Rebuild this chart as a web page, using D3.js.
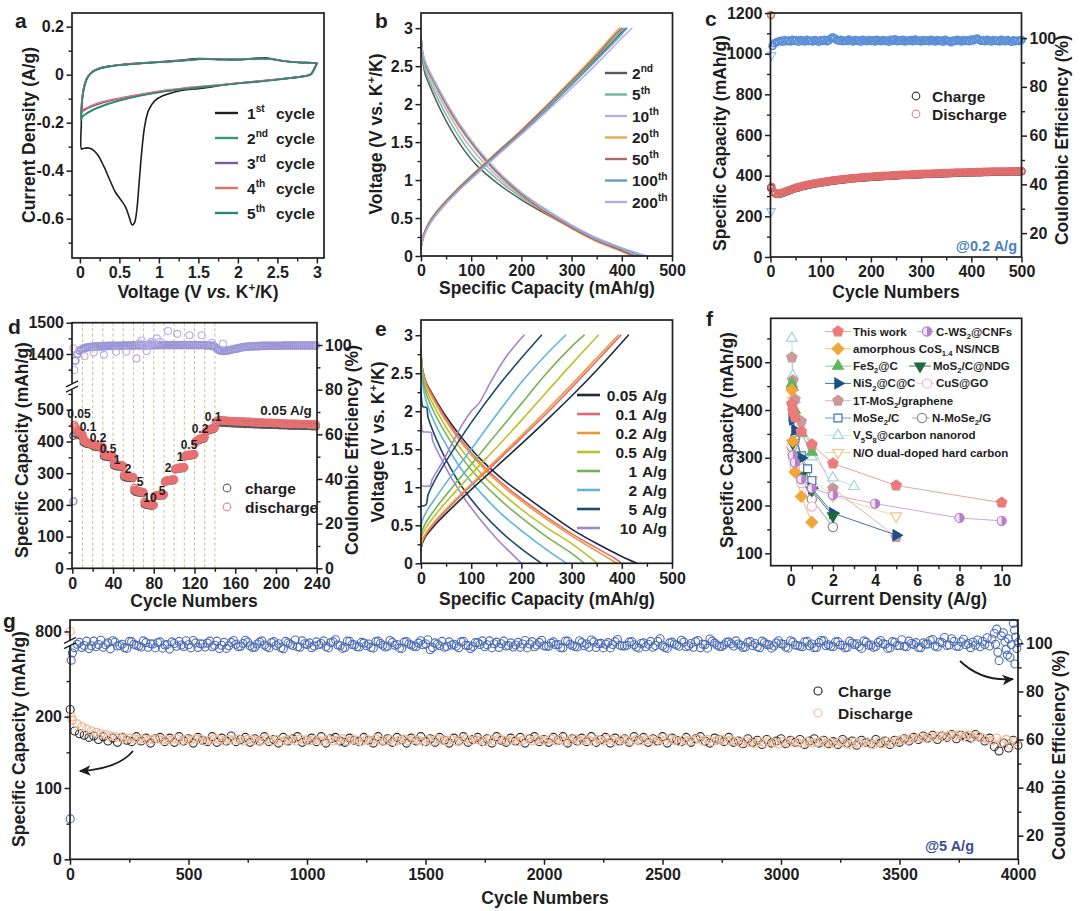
<!DOCTYPE html>
<html><head><meta charset="utf-8">
<script src="https://cdn.jsdelivr.net/npm/d3@7"></script>
<style>
body{margin:0;background:#fff;}
svg{display:block;font-family:"Liberation Sans",Arial,Helvetica,sans-serif;font-weight:bold;}
</style></head><body>
<svg id="fig" width="1080" height="911"></svg>
<script>
// ================= DATA =================
// (a) CV curves [V, A/g]
const cvNames = ["1","2","3","4","5"];
const cvSup = ["st","nd","rd","th","th"];
const cv1 = [[3.0,0.047],[2.96,0.022],[2.92,0.002],[2.8,-0.008],[2.5,-0.02],[2.2,-0.03],[2.0,-0.036],[1.8,-0.043],[1.65,-0.052],[1.5,-0.058],[1.35,-0.063],[1.2,-0.072],[1.05,-0.088],[0.95,-0.108],[0.87,-0.148],[0.82,-0.215],[0.78,-0.33],[0.75,-0.45],[0.72,-0.565],[0.69,-0.618],[0.66,-0.626],[0.63,-0.6],[0.58,-0.553],[0.52,-0.522],[0.45,-0.49],[0.38,-0.44],[0.3,-0.38],[0.22,-0.332],[0.15,-0.31],[0.1,-0.305],[0.04,-0.308],[0.02,-0.31],[0.018,-0.2],[0.025,-0.12],[0.045,-0.06],[0.08,-0.02],[0.14,0.008],[0.22,0.024],[0.35,0.035],[0.55,0.043],[0.8,0.049],[1.05,0.055],[1.3,0.061],[1.5,0.067],[1.75,0.065],[2.0,0.064],[2.2,0.068],[2.35,0.07],[2.5,0.062],[2.65,0.054],[2.85,0.05],[3.0,0.047]];
const cv2 = [[3.0,0.048],[2.97,0.025],[2.92,0.0],[2.8,-0.008],[2.5,-0.02],[2.2,-0.03],[2.0,-0.036],[1.75,-0.045],[1.5,-0.053],[1.25,-0.062],[1.0,-0.072],[0.75,-0.087],[0.5,-0.107],[0.3,-0.127],[0.15,-0.148],[0.06,-0.166],[0.025,-0.178],[0.015,-0.185],[0.02,-0.15],[0.035,-0.09],[0.06,-0.045],[0.1,-0.01],[0.16,0.012],[0.25,0.026],[0.4,0.036],[0.6,0.043],[0.85,0.049],[1.1,0.054],[1.35,0.06],[1.55,0.065],[1.8,0.063],[2.05,0.063],[2.25,0.067],[2.4,0.066],[2.55,0.058],[2.75,0.052],[2.9,0.05],[3.0,0.048]];
const cv3 = [[3.0,0.048],[2.97,0.025],[2.92,0.0],[2.8,-0.008],[2.5,-0.019],[2.2,-0.029],[2.0,-0.035],[1.75,-0.044],[1.5,-0.051],[1.25,-0.06],[1.0,-0.07],[0.75,-0.084],[0.5,-0.1],[0.3,-0.116],[0.15,-0.133],[0.06,-0.147],[0.025,-0.155],[0.015,-0.16],[0.02,-0.13],[0.035,-0.08],[0.06,-0.042],[0.1,-0.009],[0.16,0.012],[0.25,0.026],[0.4,0.036],[0.6,0.043],[0.85,0.049],[1.1,0.054],[1.35,0.06],[1.55,0.065],[1.8,0.063],[2.05,0.063],[2.25,0.067],[2.4,0.066],[2.55,0.058],[2.75,0.052],[2.9,0.05],[3.0,0.048]];
const cv4 = [[3.0,0.048],[2.97,0.025],[2.92,0.0],[2.8,-0.008],[2.5,-0.019],[2.2,-0.029],[2.0,-0.035],[1.75,-0.043],[1.5,-0.05],[1.25,-0.059],[1.0,-0.069],[0.75,-0.083],[0.5,-0.098],[0.3,-0.112],[0.15,-0.128],[0.06,-0.142],[0.025,-0.15],[0.015,-0.155],[0.02,-0.125],[0.035,-0.078],[0.06,-0.04],[0.1,-0.008],[0.16,0.012],[0.25,0.026],[0.4,0.036],[0.6,0.043],[0.85,0.049],[1.1,0.054],[1.35,0.06],[1.55,0.065],[1.8,0.063],[2.05,0.063],[2.25,0.067],[2.4,0.066],[2.55,0.058],[2.75,0.052],[2.9,0.05],[3.0,0.048]];
const cv5 = [[3.0,0.048],[2.97,0.025],[2.92,0.0],[2.8,-0.009],[2.5,-0.021],[2.2,-0.031],[2.0,-0.037],[1.75,-0.046],[1.5,-0.054],[1.25,-0.063],[1.0,-0.074],[0.75,-0.089],[0.5,-0.109],[0.3,-0.13],[0.15,-0.15],[0.06,-0.168],[0.025,-0.18],[0.015,-0.19],[0.02,-0.155],[0.035,-0.092],[0.06,-0.046],[0.1,-0.011],[0.16,0.011],[0.25,0.025],[0.4,0.035],[0.6,0.042],[0.85,0.048],[1.1,0.053],[1.35,0.059],[1.55,0.064],[1.8,0.062],[2.05,0.062],[2.25,0.066],[2.4,0.065],[2.55,0.057],[2.75,0.051],[2.9,0.049],[3.0,0.048]];

// (b) GCD profiles at 0.2 A/g [mAh/g, V]
const bNames = ["2","5","10","20","50","100","200"];
const bDis = [
 [[0,2.9],[3,2.6],[8,2.4],[15,2.28],[30,2.05],[50,1.78],[80,1.45],[110,1.2],[150,0.97],[200,0.74],[250,0.55],[300,0.37],[350,0.2],[400,0.07],[425,0.0]],
 [[0,2.9],[3,2.62],[8,2.45],[15,2.33],[30,2.12],[50,1.86],[80,1.53],[110,1.27],[150,1.02],[200,0.77],[250,0.57],[300,0.38],[350,0.21],[400,0.08],[430,0.0]],
 [[0,2.9],[3,2.65],[8,2.5],[15,2.38],[30,2.18],[50,1.93],[80,1.6],[110,1.34],[150,1.06],[200,0.79],[250,0.57],[300,0.38],[350,0.21],[400,0.08],[435,0.0]],
 [[0,2.9],[3,2.68],[8,2.53],[15,2.42],[30,2.23],[50,1.98],[80,1.66],[110,1.4],[150,1.1],[200,0.8],[250,0.56],[300,0.36],[350,0.19],[400,0.06],[420,0.0]],
 [[0,2.9],[3,2.68],[8,2.54],[15,2.43],[30,2.24],[50,2.0],[80,1.68],[110,1.41],[150,1.11],[200,0.81],[250,0.57],[300,0.37],[350,0.2],[400,0.07],[425,0.0]],
 [[0,2.9],[3,2.7],[8,2.56],[15,2.45],[30,2.26],[50,2.02],[80,1.7],[110,1.43],[150,1.13],[200,0.83],[250,0.6],[300,0.4],[350,0.23],[400,0.1],[440,0.0]],
 [[0,2.9],[3,2.7],[8,2.57],[15,2.46],[30,2.27],[50,2.03],[80,1.71],[110,1.44],[150,1.14],[200,0.84],[250,0.61],[300,0.41],[350,0.24],[400,0.11],[450,0.0]]
];
const bCha = [
 [[0,0.08],[2,0.17],[8,0.3],[20,0.45],[40,0.62],[70,0.83],[100,1.02],[130,1.2],[160,1.38],[200,1.62],[250,1.93],[300,2.26],[350,2.6],[390,2.88],[408,3.0]],
 [[0,0.1],[2,0.19],[8,0.31],[20,0.46],[40,0.63],[70,0.84],[100,1.03],[130,1.21],[160,1.39],[200,1.63],[250,1.95],[300,2.28],[350,2.62],[390,2.9],[404,3.0]],
 [[0,0.12],[2,0.21],[8,0.33],[20,0.48],[40,0.65],[70,0.86],[100,1.05],[130,1.23],[160,1.41],[200,1.65],[250,1.97],[300,2.3],[350,2.65],[385,2.9],[400,3.0]],
 [[0,0.13],[2,0.22],[8,0.34],[20,0.49],[40,0.66],[70,0.87],[100,1.06],[130,1.24],[160,1.42],[200,1.66],[250,1.98],[300,2.32],[350,2.67],[385,2.93],[395,3.0]],
 [[0,0.12],[2,0.21],[8,0.33],[20,0.48],[40,0.65],[70,0.86],[100,1.05],[130,1.23],[160,1.41],[200,1.65],[250,1.97],[300,2.3],[350,2.64],[385,2.9],[400,3.0]],
 [[0,0.1],[2,0.19],[8,0.31],[20,0.46],[40,0.63],[70,0.84],[100,1.03],[130,1.21],[160,1.39],[200,1.62],[250,1.93],[300,2.25],[350,2.58],[390,2.85],[410,3.0]],
 [[0,0.09],[2,0.18],[8,0.3],[20,0.45],[40,0.62],[70,0.83],[100,1.01],[130,1.19],[160,1.37],[200,1.6],[250,1.9],[300,2.21],[350,2.53],[400,2.87],[420,3.0]]
];

// (c) cycling at 0.2 A/g
const cFirst = {dis:1190, cha:340, ce1:29, ce2:93};
const cDis = [322,314,311,313,317,322,327,331,336,340,343,347,350,353,356,358,361,363,365,367,369,371,373,375,377,378,380,381,383,384,385,387,388,389,390,391,392,393,394,395,396,397,397,398,399,400,400,401,402,402,403,404,404,405,405,406,407,407,408,408,409,409,410,410,411,411,412,412,413,413,413,414,414,415,415,415,416,416,417,417,417,418,418,418,419,419,419,420,420,420,420,421,421,421,421,422,422,422,422,423];
const cCha = [320,312,309,311,315,320,325,329,334,338,341,345,348,351,354,356,359,361,363,365,367,369,371,373,375,376,378,379,381,382,383,385,386,387,388,389,390,391,392,393,394,395,395,396,397,398,398,399,400,400,401,402,402,403,403,404,405,405,406,406,407,407,408,408,409,409,410,410,411,411,411,412,412,413,413,413,414,414,415,415,415,416,416,416,417,417,417,418,418,418,418,419,419,419,419,420,420,420,420,421];
const cCE = [96.8,97.9,98.3,98.6,98.9,98.5,99.2,98.7,99.0,98.6, 99.3,98.8,99.1,98.5,99.2,98.9,98.6,99.3,98.8,99.0, 98.6,99.2,98.9,98.5,99.1,98.8,99.3,98.7,99.0,99.8, 100.4,99.9,99.2,98.9,99.3,98.7,99.0,98.8,99.4,98.9, 98.6,99.2,98.8,99.1,98.5,99.3,98.9,98.7,99.2,98.8, 99.1,98.6,99.3,98.9,98.7,99.2,98.8,99.0,98.5,99.3, 98.9,99.5,98.7,99.1,98.8,99.3,98.6,99.0,98.9,99.2, 98.7,99.4,98.9,99.0,98.6,99.2,98.8,99.1,98.7,99.3, 98.9,98.6,99.2,98.8,99.0,98.5,99.3,98.9,98.7,98.3, 99.0,98.8,99.3,98.9,98.6,99.2,98.8,99.1,98.7,99.4, 99.0,99.6,99.8,99.2,98.8,99.1,98.7,99.3,98.9,98.6, 99.2,98.8,99.0,98.6,99.3,98.9,98.7,99.2,98.8,98.5, 99.1,98.7,99.0,98.8,99.2];

// (d) rate capability
const dRates = ["0.05","0.1","0.2","0.5","1","2","5","10","5","2","1","0.5","0.2","0.1"];
const dFirstDis = 1418;
const dDisA = [452,446,440,435,431,428,426,424,422, 410,402,399,397,396,395,394,393,393,392, 390,388,387,387,386,385,385,384,384,383, 365,358,357,356,356,355,355,354,354,353, 333,328,327,326,326,325,325,324,324,323, 297,292,291,290,289,289,288,288,287,287, 253,247,245,244,243,242,242,241,240,240, 210,205,204,203,203,202,202,201,201,200, 228,230,230,231,231,231,232,232,232,233, 272,276,277,277,278,278,279,279,280,280, 312,315,316,316,317,317,318,318,318,319, 353,356,357,357,358,358,359,359,360,360, 398,402,404,406,408,409,410,411,412,413, 430,434,436,438,439,440,441,442,443,444];
const dDisB = [462,466,467,467,466,466,465,465,465,464, 464,464,463,463,463,462,462,462,461,461, 461,460,460,460,459,459,459,459,458,458, 458,458,457,457,457,457,456,456,456,456, 456,455,455,455,455,455,454,454,454,454];
const dCha = [418,425,422,419,417, 398,394,392,391,390, 385,383,382,381,380, 354,352,351,350,350, 324,322,321,321,320, 288,286,285,284,284, 244,240,239,238,237, 202,200,199,198,198, 228,229,229,230,230, 273,275,276,277,277, 313,314,315,315,316, 354,355,356,356,357, 398,402,405,407,409, 431,434,436,438,440, 458,460,460,459,459,458,458,458,457,457, 457,456,456,456,455,455,455,455,454,454, 454,454,453,453,453,453,452,452,452,452, 452,451,451,451,451,451,450,450,450,450, 450,450,449,449,449,449,449,448,448,448];
const dCE = [30,93,96,97.5,98,98.5,98.8,99,99.1,99.2, 99.3,99.3,99.4,99.4,99.5,99.5,99.5,99.6,99.6,99.6, 99.6,99.7,99.7,99.7,99.7,99.8,99.8,99.8,99.8,99.8, 99.8,99.9,99.9,99.8,99.9,99.9,99.8,99.9,99.9,99.9, 99.9,100,99.9,100,99.9,100,100,99.9,100,100, 99.9,100,100,99.9,100,100,99.9,100,100,99.9, 100,99.9,100,99.9,100,99.8,99.9,99.8,99.7,99.6, 98.8,98.0,97.6,97.4,97.3,97.4,97.6,97.8,98.0,98.2, 98.4,98.6,98.8,99.0,99.1,99.2,99.3,99.4,99.4,99.5, 99.5,99.5,99.6,99.6,99.6,99.6,99.7,99.7,99.7,99.7, 99.7,99.7,99.7,99.8,99.8,99.8,99.8,99.8,99.8,99.8, 99.8,99.8,99.8,99.8,99.8,99.8,99.8,99.8,99.8,99.8];
const dCEout = [[2,88.8],[12,95],[21,96.7],[31,95.6],[43,97],[53,97],[63,94],[66,100.8],[68,102],[71,99.5],[73,97.3],[76,100.5],[78,101.4],[80,100.8],[83,103],[86,101.5],[94,106.3],[103,105],[115,104.4],[127,104.4],[137,101],[148,100.6]];

// (e) GCD at different rates [mAh/g, V]
const eRates = ["0.05","0.1","0.2","0.5","1","2","5","10"];
const eCha = [
 [[0,0.17],[2,0.25],[10,0.36],[30,0.52],[60,0.72],[100,0.97],[150,1.27],[200,1.57],[250,1.88],[300,2.2],[350,2.54],[413,3.0]],
 [[0,0.19],[2,0.27],[10,0.38],[30,0.55],[60,0.76],[100,1.02],[150,1.33],[200,1.65],[250,1.97],[300,2.31],[350,2.66],[398,3.0]],
 [[0,0.21],[2,0.29],[10,0.4],[30,0.57],[60,0.78],[100,1.04],[150,1.36],[200,1.68],[250,2.01],[300,2.35],[350,2.7],[393,3.0]],
 [[0,0.27],[2,0.36],[10,0.47],[30,0.65],[60,0.88],[100,1.17],[150,1.52],[200,1.88],[250,2.25],[300,2.62],[353,3.0]],
 [[0,0.32],[2,0.42],[10,0.54],[30,0.73],[60,0.98],[100,1.3],[150,1.7],[200,2.1],[250,2.5],[300,2.85],[325,3.0]],
 [[0,0.45],[2,0.55],[10,0.67],[30,0.87],[60,1.15],[100,1.5],[150,1.95],[200,2.38],[250,2.75],[288,3.0]],
 [[0,0.75],[10,0.77],[14,0.9],[30,1.12],[60,1.45],[100,1.85],[150,2.3],[200,2.7],[240,3.0]],
 [[0,1.02],[18,1.02],[22,1.1],[40,1.3],[60,1.55],[80,1.8],[100,2.0],[115,2.1],[140,2.4],[170,2.72],[205,3.0]]
];
const eDis = [
 [[0,2.8],[3,2.55],[10,2.38],[25,2.2],[50,1.93],[80,1.66],[120,1.36],[160,1.12],[200,0.92],[250,0.68],[300,0.45],[350,0.26],[400,0.09],[430,0]],
 [[0,2.8],[3,2.55],[10,2.37],[25,2.18],[50,1.9],[80,1.62],[120,1.31],[160,1.06],[200,0.85],[250,0.61],[300,0.39],[350,0.2],[385,0.07],[400,0]],
 [[0,2.78],[3,2.53],[10,2.35],[25,2.15],[50,1.87],[80,1.59],[120,1.28],[160,1.03],[200,0.82],[250,0.58],[300,0.36],[350,0.16],[390,0]],
 [[0,2.75],[3,2.5],[10,2.3],[25,2.08],[50,1.79],[80,1.5],[120,1.18],[160,0.93],[200,0.71],[250,0.47],[300,0.26],[352,0]],
 [[0,2.7],[3,2.45],[10,2.24],[25,2.0],[50,1.7],[80,1.4],[120,1.08],[160,0.82],[200,0.6],[250,0.35],[300,0.13],[325,0]],
 [[0,2.6],[3,2.37],[10,2.14],[25,1.88],[50,1.56],[80,1.24],[120,0.92],[160,0.65],[200,0.43],[250,0.18],[290,0]],
 [[0,2.3],[2,2.1],[4,2.06],[11,2.05],[14,1.92],[30,1.64],[50,1.36],[80,1.02],[120,0.68],[160,0.41],[200,0.19],[240,0]],
 [[0,1.9],[2,1.76],[4,1.73],[20,1.72],[23,1.62],[40,1.38],[60,1.13],[90,0.82],[120,0.56],[150,0.33],[180,0.13],[200,0]]
];

// (f) comparison [A/g, mAh/g]
const fNames = ["This work","C-WS2@CNFs","amorphous CoS1.4 NS/NCB","FeS2@C","MoS2/C@NDG","NiS2@C@C","CuS@GO","1T-MoS2/graphene","MoSe2/C","N-MoSe2/G","V5S8@carbon nanorod","N/O dual-doped hard carbon"];
const fThis = [[0.05,413],[0.1,398],[0.2,385],[0.5,355],[1,328],[2,288],[5,242],[10,206]];
const fCWS2 = [[0.1,305],[0.2,290],[0.5,255],[1,236],[2,222],[4,204],[8,174],[10,168]];
const fCoS = [[0.05,442],[0.1,335],[0.2,270],[0.5,219],[1,165]];
const fFeS2 = [[0.05,455],[0.1,448],[0.2,400],[0.5,352],[1,312]];
const fMoS2NDG = [[0.1,330],[0.2,300],[0.5,262],[1,232],[2,178]];
const fNiS2 = [[0.1,380],[0.2,358],[0.5,300],[1,236],[2,184],[5,138]];
const fCuS = [[0.05,325],[0.1,300],[0.2,280],[0.5,247],[1,198]];
const fMoS2G = [[0.05,510],[0.1,462],[0.2,422],[0.5,376],[1,325],[2,236],[5,134]];
const fMoSe2C = [[0.1,385],[0.2,340],[0.5,304],[0.8,277],[1,252]];
const fNMoSe2 = [[0.05,322],[0.1,305],[0.2,285],[0.5,257],[1,213],[2,155]];
const fV5S8 = [[0.05,550],[0.1,472],[0.2,422],[0.5,352],[1,302],[2,258],[3,240]];
const fNOHC = [[0.05,440],[0.1,420],[0.2,335],[0.5,280],[1,254],[2,220],[5,178]];

// (g) long cycling at 5 A/g
const gFirst = {dis:800, cha:210, ce1:27};
const gEarly = {dis:[[5,200]], ce:[[5,93],[10,96]]};
const gCE = [98.2,100.4,99.1,97.8,100.9,99.5,98.4,100.2,101.1,98.9,99.6,97.9,100.7,99.2,98.5,100.3,99.8,98.1,100.6,99.3,
 97.6,99.9,100.8,98.7,99.4,101.2,98.3,99.7,100.1,98.6,100.9,99.2,97.9,100.4,99.6,98.8,101.3,99.0,98.4,100.5,
 99.3,98.1,100.7,99.8,97.7,100.2,99.1,98.6,101.0,99.5,98.2,100.6,99.9,98.7,100.3,101.5,99.0,98.3,100.8,99.4,
 98.5,100.1,99.7,98.0,100.9,99.2,98.8,100.4,99.5,97.9,100.7,99.3,98.6,101.1,99.8,97.3,100.2,99.0,98.4,100.6,
 99.6,98.2,100.8,99.1,98.7,100.3,101.0,99.4,98.1,100.5,99.8,98.9,100.2,99.3,98.4,101.2,99.7,98.6,100.4,99.0,
 98.8,100.6,99.5,98.2,100.9,99.1,98.5,100.3,99.7,101.4,98.3,100.0,99.6,98.1,100.7,99.2,98.9,100.5,99.4,98.0,
 100.2,99.6,98.4,100.8,99.0,97.9,100.5,99.3,101.3,98.6,99.9,100.7,98.2,99.5,101.8,100.1,98.7,99.4,100.6,98.9,
 99.7,98.3,100.4,99.1,98.6,100.9,99.5,98.0,100.2,99.8,98.5,101.1,99.3,98.8,100.6,99.0,98.2,100.3,101.0,99.4,
 98.6,100.7,99.2,98.4,100.1,99.8,97.9,100.5,99.3,98.7,101.2,99.6,98.1,100.4,99.0,98.8,100.9,99.5,98.3,100.2,
 99.7,101.6,98.5,100.3,99.1,101.9,98.8,100.6,99.4,98.2];
const gCE2 = [99.6,98.3,100.9,99.0,98.6,101.3,99.4,97.7,100.5,99.1,98.2,100.8,99.6,98.9,101.0,98.4,99.7,100.3,98.0,99.5,
 100.6,98.8,99.3,101.1,98.1,100.2,99.8,98.5,100.9,99.2,97.8,100.4,99.0,101.2,98.6,99.9,100.5,98.3,99.7,101.0,
 98.7,100.3,99.1,98.2,100.8,99.6,101.4,98.4,99.8,100.2,98.9,99.4,101.0,98.1,100.6,99.3,97.9,100.9,99.5,98.6,
 100.4,99.0,98.3,100.7,99.9,98.5,101.2,99.2,98.0,100.5,99.7,98.8,100.1,99.4,101.5,98.2,99.6,100.8,98.7,99.3,
 98.9,100.6,99.2,97.8,100.3,99.5,98.6,101.0,99.8,98.3,100.9,99.1,98.5,100.4,99.7,98.1,100.7,99.3,101.3,98.8,
 100.1,99.4,98.2,100.9,99.6,98.7,101.1,99.0,98.4,100.6,99.8,98.1,100.3,99.5,101.6,98.9,99.2,100.7,98.5,99.9,
 98.6,100.8,99.1,101.9,98.3,100.2,99.7,98.8,100.5,99.0,98.4,101.2,99.6,98.0,100.9,99.3,98.7,100.4,99.8,101.0,
 99.2,98.5,100.7,99.9,98.2,100.3,99.4,98.9,101.1,99.6,98.0,100.5,99.1,98.6,100.8,99.7,98.3,101.3,99.0,98.8,
 100.6,99.3,98.1,100.9,99.5,98.7,101.0,99.2,98.4,100.4,99.8,97.9,100.7,99.1,101.5,98.6,99.9,100.3,98.2,99.6,
 101.2,98.9,100.5,102.4,99.3,100.8,98.7,101.7,99.9];
const gCEtail = [[3810,100.5],[3820,99.2],[3830,101.4],[3840,98.6],[3850,100.8],[3860,99.5],[3870,102.3],[3880,98.9],[3890,101.8],[3900,104.2],[3905,99.6],[3910,105.9],[3915,96.3],[3920,92.8],[3930,103.1],[3938,104.4],[3945,100.7],[3950,97.5],[3955,95.1],[3960,101.9],[3966,94.2],[3972,99.4],[3980,108.3],[3985,105.5],[3987,91.4],[3990,102.6],[3995,97.8],[4000,100.3]];
const gCha = [180,176,174,171,173,168,172,166,170,164,171,167,165,172,166,170,163,169,171,165,
 170,164,172,166,169,163,171,167,165,172,164,170,166,173,165,168,171,164,169,166,
 172,165,168,163,171,166,169,172,164,167,170,165,172,163,169,171,166,164,170,167,
 165,171,167,163,172,166,169,164,171,168,163,170,166,172,165,169,164,171,167,163,
 170,166,172,164,168,171,165,169,163,172,167,164,170,166,171,163,169,172,165,168,
 164,171,167,172,163,169,166,170,165,172,164,168,171,163,170,166,169,164,172,167,
 171,164,169,166,172,163,170,167,165,171,164,169,172,166,163,170,168,165,171,164,
 166,162,169,164,167,161,168,163,166,169,162,167,164,168,161,166,169,163,167,162,
 165,161,168,163,166,160,167,164,162,168,163,166,161,167,164,169,166,171,168,173,
 170,174,168,173,171,175,169,174,172,170,175,171,166,170,158,152,163,156,167,160];
const gDis = [195,190,186,183,180,178,176,175,173,172,171,170,170,169,168,169,167,168,169,167,
 168,167,169,166,168,167,169,168,166,167,169,168,166,168,167,169,166,168,167,166,
 167,169,166,168,165,167,168,166,169,167,166,168,167,165,168,166,167,169,166,168,
 167,165,168,166,169,167,166,168,165,167,169,166,168,167,165,168,166,169,167,166,
 168,166,167,169,166,168,167,165,168,166,169,167,166,168,165,167,169,166,168,167,
 167,169,166,168,165,167,169,166,168,167,165,168,166,169,167,165,168,167,166,168,
 166,168,167,165,168,166,169,167,165,168,166,167,169,166,168,165,167,168,166,167,
 165,163,166,164,162,165,163,166,164,162,165,163,166,164,162,165,163,164,166,163,
 164,162,165,163,161,164,162,165,163,161,164,162,165,163,166,168,167,170,169,171,
 170,172,171,173,172,174,173,175,172,174,171,173,170,168,166,170,164,168,160,165];

// ================= DRAWING =================
const INK = "#1e1e1e";
const svg = d3.select("#fig");
const defs = svg.append("defs");
defs.append("marker").attr("id","arr").attr("viewBox","0 0 10 10").attr("refX",9).attr("refY",5)
  .attr("markerWidth",6.5).attr("markerHeight",6.5).attr("orient","auto").attr("markerUnits","strokeWidth")
  .append("path").attr("d","M0,0.5 L10,5 L0,9.5 L2.5,5 Z").attr("fill",INK);

function rich(t, parts, fs){
  let shift = 0;
  parts.forEach(p=>{
    const ts = t.append("tspan").text(p.t);
    let target = 0, size = fs;
    if (p.sup){ target = -0.4*fs; size = fs*0.66; }
    if (p.sub){ target = 0.28*fs; size = fs*0.66; }
    ts.attr("dy", target - shift).attr("font-size", size);
    if (p.it) ts.attr("font-style","italic");
    shift = target;
  });
}
function P(str){
  const out=[]; const re=/(_[^_]+_|\^[^\^]+\^)/g; let last=0, m;
  while((m=re.exec(str))){ if(m.index>last) out.push({t:str.slice(last,m.index)});
    const s=m[0]; out.push(s[0]==="_"?{t:s.slice(1,-1),sub:1}:{t:s.slice(1,-1),sup:1}); last=m.index+s.length; }
  if(last<str.length) out.push({t:str.slice(last)}); return out;
}
function title(x,y,parts,rot,fs){
  fs = fs||17.5;
  const t = svg.append("text").attr("transform",`translate(${x},${y})${rot?" rotate(-90)":""}`)
   .attr("y",0.36*fs).attr("text-anchor","middle").attr("font-size",fs).attr("fill",INK);
  rich(t, parts, fs); return t;
}
function label(x,y,parts,fs,anchor,color){
  const t = svg.append("text").attr("x",x).attr("y",y).attr("text-anchor",anchor||"start")
   .attr("font-size",fs).attr("fill",color||INK);
  rich(t, parts, fs); return t;
}
function frame(p){
  svg.append("rect").attr("x",p.x0).attr("y",p.y0).attr("width",p.x1-p.x0).attr("height",p.y1-p.y0)
   .attr("fill","none").attr("stroke",INK).attr("stroke-width",1.7);
}
function axis(kind, scale, pos, major, minor, fmt){
  const mk = {bottom:d3.axisBottom,left:d3.axisLeft,right:d3.axisRight}[kind];
  const tr = kind==="bottom" ? `translate(0,${pos})` : `translate(${pos},0)`;
  if (minor && minor.length){
    const gm = svg.append("g").attr("transform",tr).call(mk(scale).tickValues(minor).tickFormat("").tickSize(3.5));
    gm.select(".domain").remove();
    gm.selectAll("line").attr("stroke",INK).attr("stroke-width",1.4);
  }
  const g = svg.append("g").attr("transform",tr)
    .call(mk(scale).tickValues(major).tickFormat(fmt||(d=>String(d))).tickSize(5.5).tickPadding(kind==="bottom"?3.5:2.5));
  g.select(".domain").remove();
  g.attr("font-family",null).attr("font-size",16);
  g.selectAll("line").attr("stroke",INK).attr("stroke-width",1.5);
  g.selectAll("text").attr("fill",INK).attr("font-weight","bold");
  return g;
}
function letter(ch,x,y){ svg.append("text").attr("x",x).attr("y",y).attr("font-size",21).attr("fill",INK).text(ch); }
function pline(data, xs, ys, color, w, curve){
  svg.append("path").datum(data).attr("fill","none").attr("stroke",color).attr("stroke-width",w)
   .attr("stroke-linejoin","round").attr("stroke-linecap","round")
   .attr("d", d3.line().x(d=>xs(d[0])).y(d=>ys(d[1])).curve(curve||d3.curveCatmullRom.alpha(0.5)));
}
function dots(data, xs, ys, color, r, sw){
  svg.append("g").selectAll("circle").data(data).join("circle")
   .attr("cx",d=>xs(d[0])).attr("cy",d=>ys(d[1])).attr("r",r)
   .attr("fill","none").attr("stroke",color).attr("stroke-width",sw||1.1);
}
function breakMark(x, y){
  svg.append("rect").attr("x",x-3).attr("y",y-3).attr("width",6).attr("height",6).attr("fill","#fff");
  [-2.6,2.6].forEach(o=>svg.append("line").attr("x1",x-6).attr("y1",y+o+3).attr("x2",x+6).attr("y2",y+o-3)
     .attr("stroke",INK).attr("stroke-width",1.4));
}
const rng = (a,b,s)=>d3.range(a,b,s);

// ---------- panel a ----------
{
const p={x0:72,x1:324,y0:13,y1:258};
const x=d3.scaleLinear([-0.1,3.09],[p.x0,p.x1]);
const y=d3.scaleLinear([-0.764,0.257],[p.y1,p.y0]);
const cols=["#1f1f1f","#2f9e6f","#7b5b9b","#e0706e","#27897e"];
[cv1,cv2,cv3,cv4,cv5].forEach((c,i)=>pline(c,x,y,cols[i],1.6));
frame(p);
axis("bottom",x,p.y1,[0,0.5,1,1.5,2,2.5,3],[0.25,0.75,1.25,1.75,2.25,2.75]);
axis("left",y,p.x0,[-0.6,-0.4,-0.2,0,0.2],[-0.7,-0.5,-0.3,-0.1,0.1]);
title(28.5,135,[{t:"Current Density (A/g)"}],true);
title(198,292,[{t:"Voltage (V "},{t:"vs.",it:1},{t:" K"},{t:"+",sup:1},{t:"/K)"}],false);
letter("a",15,28);
cols.forEach((c,i)=>{
  const yy=113+i*25;
  svg.append("line").attr("x1",215).attr("x2",238).attr("y1",yy).attr("y2",yy).attr("stroke",c).attr("stroke-width",2.4);
  label(247,yy+5.5,[{t:cvNames[i]},{t:cvSup[i],sup:1}],15.5);
  label(276,yy+5.5,[{t:"cycle"}],15.5);
});
}

// ---------- panel b ----------
{
const p={x0:421,x1:672.5,y0:13,y1:256};
const x=d3.scaleLinear([0,500],[421,672]);
const y=d3.scaleLinear([0,3.2],[p.y1,p.y0]);
const cols=["#5a5a5a","#6bbb9a","#b9b0d9","#eaaa4c","#a86a6a","#5e9fb8","#b4aee0"];
bDis.forEach((c,i)=>pline(c,x,y,cols[i],1.5));
bCha.forEach((c,i)=>pline(c,x,y,cols[i],1.5));
frame(p);
axis("bottom",x,p.y1,[0,100,200,300,400,500],[50,150,250,350,450]);
axis("left",y,p.x0,[0,0.5,1,1.5,2,2.5,3],[0.25,0.75,1.25,1.75,2.25,2.75]);
title(376,134,[{t:"Voltage (V vs. K"},{t:"+",sup:1},{t:"/K)"}],true);
title(547,288,[{t:"Specific Capacity (mAh/g)"}],false);
letter("b",375,28);
cols.forEach((c,i)=>{
  const yy=73+i*21.5;
  svg.append("line").attr("x1",605).attr("x2",627).attr("y1",yy).attr("y2",yy).attr("stroke",c).attr("stroke-width",2.4);
  label(632,yy+5.5,[{t:bNames[i]},{t:i===0?"nd":"th",sup:1}],15.5);
});
}

// ---------- panel c ----------
{
const p={x0:770.5,x1:1021.5,y0:13,y1:257};
const x=d3.scaleLinear([0,500],[p.x0,p.x1]);
const yL=d3.scaleLinear([0,1200],[p.y1,p.y0]);
const yR=d3.scaleLinear([10.2,110.3],[p.y1,p.y0]);
const ceCyc=rng(4,501,4), capCyc=rng(5,501,5);
dots(d3.zip(ceCyc,cCE),x,yR,"#5b8fd6",3.4,1.7);
const tri=d3.symbol(d3.symbolTriangle,34);
[[1,cFirst.ce1],[2,cFirst.ce2]].forEach(d=>svg.append("path").attr("d",tri())
   .attr("transform",`translate(${x(d[0])},${yR(d[1])}) rotate(180)`).attr("fill","none").attr("stroke","#9fbde6").attr("stroke-width",1.1));
dots([[1,cFirst.cha]].concat(d3.zip(capCyc,cCha)),x,yL,"#3a3a3a",3.4,1.4);
dots([[1,cFirst.dis],[2,345]].concat(d3.zip(capCyc,cDis)),x,yL,"#e46d6d",3.4,1.7);
frame(p);
axis("bottom",x,p.y1,[0,100,200,300,400,500],[50,150,250,350,450]);
axis("left",yL,p.x0,[0,200,400,600,800,1000,1200],[100,300,500,700,900,1100]);
axis("right",yR,p.x1,[20,40,60,80,100],[30,50,70,90]);
title(720,143,[{t:"Specific Capacity (mAh/g)"}],true);
title(1062,140,[{t:"Coulombic Efficiency (%)"}],true);
title(896,292,[{t:"Cycle Numbers"}],false);
letter("c",705,26);
dots([[0,0]],()=>916,()=>96,"#3a3a3a",3.8,1.2);
dots([[0,0]],()=>916,()=>114,"#e88a8a",3.8,1.2);
label(932,101.5,[{t:"Charge"}],15.5);
label(932,119.5,[{t:"Discharge"}],15.5);
label(1017,251,[{t:"@0.2 A/g"}],14.5,"end","#4a82c4");
}

// ---------- panel d ----------
{
const p={x0:72,x1:317,y0:322.7,y1:568.3};
const x=d3.scaleLinear([0,240],[72.3,316.7]);
const yLo=d3.scaleLinear([0,570],[568.3,387.6]);
const yHi=d3.scaleLinear([1300,1500],[385.3,322.7]);
const yR=d3.scaleLinear([0,110],[568.3,322.7]);
svg.append("g").selectAll("line").data(rng(10,141,10)).join("line")
  .attr("x1",d=>x(d)).attr("x2",d=>x(d)).attr("y1",p.y0).attr("y2",p.y1)
  .attr("stroke","#c7b77c").attr("stroke-width",0.9).attr("stroke-dasharray","3,2.5");
const odd=rng(1,240,2);
dots(d3.zip(odd,dCE),x,yR,"#9d96d6",3.5,1.6);
dots(dCEout,x,yR,"#b4aee2",3.5,1.1);
dots(d3.zip(odd,dCha),x,yLo,"#555",3.5,1.2);
dots(d3.zip(rng(2,141,1),dDisA).concat(d3.zip(rng(141,240,2),dDisB)),x,yLo,"#e87070",3.5,1.5);
dots([[1,dFirstDis]],x,yHi,"#c9b0d8",3.5,1.1);
frame(p);
axis("bottom",x,p.y1,[0,40,80,120,160,200,240],[20,60,100,140,180,220]);
axis("left",yLo,p.x0,[0,100,200,300,400,500],[50,150,250,350,450,550]);
axis("left",yHi,p.x0,[1400,1500],[1350,1450]);
axis("right",yR,p.x1,[0,20,40,60,80,100],[10,30,50,70,90]);
breakMark(p.x0,386.5);
title(22,450,[{t:"Specific Capacity (mAh/g)"}],true);
title(352,450,[{t:"Coulombic Efficiency (%)"}],true);
title(194,601,[{t:"Cycle Numbers"}],false);
letter("d",8,334);
const lab=[[79,418],[88,431],[98,442],[108,453],[117,464],[128,473],[140,486],[150,502],[162,495],[168,472],[180,461],[189,449],[200,433],[213,421]];
lab.forEach((d,i)=>label(d[0],d[1],[{t:dRates[i]}],12,"middle"));
label(286,415,[{t:"0.05 A/g"}],13.5,"middle");
dots([[0,0]],()=>227,()=>488,"#666",3.8,1.2);
dots([[0,0]],()=>227,()=>507,"#e88a8a",3.8,1.2);
label(245,493.5,[{t:"charge"}],15.5);
label(245,512.5,[{t:"discharge"}],15.5);
}

// ---------- panel e ----------
{
const p={x0:421,x1:672.5,y0:320,y1:563.3};
const x=d3.scaleLinear([0,500],[421,672]);
const y=d3.scaleLinear([0,3.2],[p.y1,p.y0]);
const cols=["#1b2b45","#e36a6a","#f0963a","#bcc22a","#74b455","#62b2e2","#1d4a6a","#a585c8"];
eDis.forEach((c,i)=>pline(c,x,y,cols[i],1.6));
eCha.forEach((c,i)=>pline(c,x,y,cols[i],1.6));
frame(p);
axis("bottom",x,p.y1,[0,100,200,300,400,500],[50,150,250,350,450]);
axis("left",y,p.x0,[0,0.5,1,1.5,2,2.5,3],[0.25,0.75,1.25,1.75,2.25,2.75]);
title(378,442,[{t:"Voltage (V vs. K"},{t:"+",sup:1},{t:"/K)"}],true);
title(547,599,[{t:"Specific Capacity (mAh/g)"}],false);
letter("e",375,336);
cols.forEach((c,i)=>{
  const yy=395+i*19;
  svg.append("line").attr("x1",577).attr("x2",600).attr("y1",yy).attr("y2",yy).attr("stroke",c).attr("stroke-width",2.6);
  label(637,yy+5.5,[{t:eRates[i]}],15.5,"end");
  label(642,yy+5.5,[{t:"A/g"}],15.5);
});
}

// ---------- panel f ----------
{
const p={x0:770.7,x1:1021.7,y0:318.3,y1:565.7};
const x=d3.scaleLinear([-0.95,10.95],[p.x0,p.x1]);
const y=d3.scaleLinear([74,592],[p.y1,p.y0]);
const poly=(n,r,rot)=>{const pts=d3.range(n).map(i=>{const a=rot+2*Math.PI*i/n;return [r*Math.sin(a),-r*Math.cos(a)];});return "M"+pts.map(q=>q.join(",")).join("L")+"Z";};
const shapes={
  pent:poly(5,5.4,0), tri:poly(3,6.2,0), triD:poly(3,6.2,Math.PI), triR:poly(3,6.2,Math.PI/2),
  dia:poly(4,5.8,0), sq:poly(4,5.6,Math.PI/4), circ:"M-4.6,0A4.6,4.6 0 1,0 4.6,0A4.6,4.6 0 1,0 -4.6,0Z"
};
const S=[
 {d:fThis,sh:"pent",fill:"#ec7b7b",stroke:"#ec7b7b",line:"#e8a3a3"},
 {d:fCWS2,sh:"half",fill:"#b57fc9",stroke:"#b57fc9",line:"#cfa8dc"},
 {d:fCoS,sh:"dia",fill:"#f2a53a",stroke:"#f2a53a",line:"#f3bf70"},
 {d:fFeS2,sh:"tri",fill:"#5cb85c",stroke:"#5cb85c",line:"#8fcc8f"},
 {d:fMoS2NDG,sh:"triD",fill:"#1d6b3a",stroke:"#1d6b3a",line:"#4a8060"},
 {d:fNiS2,sh:"triR",fill:"#1c4f8a",stroke:"#1c4f8a",line:"#4a70a0"},
 {d:fCuS,sh:"circ",fill:"#fff",stroke:"#f2b6c6",line:"#f4ccd7"},
 {d:fMoS2G,sh:"pent",fill:"#c99a9a",stroke:"#c99a9a",line:"#dab6b6"},
 {d:fMoSe2C,sh:"sq",fill:"#fff",stroke:"#3d73b8",line:"#7399cc"},
 {d:fNMoSe2,sh:"circ",fill:"#fff",stroke:"#8a8a8a",line:"#a8a8a8"},
 {d:fV5S8,sh:"tri",fill:"#fff",stroke:"#9fd6e2",line:"#bfe3ec"},
 {d:fNOHC,sh:"triD",fill:"#fff",stroke:"#f2c27a",line:"#f4d6a4"}
];
function marker(s,cx,cy){
  if(s.sh==="half"){
    svg.append("path").attr("d",shapes.circ).attr("transform",`translate(${cx},${cy})`).attr("fill","#efe3f4").attr("stroke",s.stroke).attr("stroke-width",1.1);
    svg.append("path").attr("d","M0,-4.6A4.6,4.6 0 0,1 0,4.6Z").attr("transform",`translate(${cx},${cy})`).attr("fill",s.fill);
  } else {
    svg.append("path").attr("d",shapes[s.sh]).attr("transform",`translate(${cx},${cy})`).attr("fill",s.fill).attr("stroke",s.stroke).attr("stroke-width",1.2);
  }
}
S.slice().reverse().forEach(s=>pline(s.d,x,y,s.line,1,d3.curveLinear));
S.slice().reverse().forEach(s=>s.d.forEach(d=>marker(s,x(d[0]),y(d[1]))));
frame(p);
axis("bottom",x,p.y1,[0,2,4,6,8,10],[1,3,5,7,9]);
axis("left",y,p.x0,[100,200,300,400,500],[150,250,350,450,550]);
title(727,440,[{t:"Specific Capacity (mAh/g)"}],true);
title(899,599,[{t:"Current Density (A/g)"}],false);
letter("f",706,326);
const L=[
 {i:0,row:0,lx:825,mx:838,tx:853,txt:"This work"},
 {i:1,row:0,lx:917,mx:927,tx:936,txt:"C-WS_2_@CNFs"},
 {i:2,row:1,lx:825,mx:838,tx:853,txt:"amorphous CoS_1.4_ NS/NCB"},
 {i:3,row:2,lx:825,mx:838,tx:853,txt:"FeS_2_@C"},
 {i:4,row:2,lx:909,mx:920,tx:933,txt:"MoS_2_/C@NDG"},
 {i:5,row:3,lx:825,mx:838,tx:853,txt:"NiS_2_@C@C"},
 {i:6,row:3,lx:916,mx:927,tx:936,txt:"CuS@GO"},
 {i:7,row:4,lx:825,mx:838,tx:853,txt:"1T-MoS_2_/graphene"},
 {i:8,row:5,lx:825,mx:838,tx:853,txt:"MoSe_2_/C"},
 {i:9,row:5,lx:912,mx:922,tx:932,txt:"N-MoSe_2_/G"},
 {i:10,row:6,lx:825,mx:838,tx:853,txt:"V_5_S_8_@carbon nanorod"},
 {i:11,row:7,lx:825,mx:838,tx:853,txt:"N/O dual-doped hard carbon"}
];
L.forEach(l=>{
  const yy=331.5+l.row*17.3, s=S[l.i];
  svg.append("line").attr("x1",l.lx).attr("x2",l.tx-2).attr("y1",yy).attr("y2",yy).attr("stroke",s.line).attr("stroke-width",1);
  marker(s,l.mx,yy);
  label(l.tx,yy+4,P(l.txt),11.5);
});
}

// ---------- panel g ----------
{
const p={x0:70,x1:1018,y0:620,y1:859.3};
const x=d3.scaleLinear([0,4000],[p.x0,p.x1]);
const yLo=d3.scaleLinear([0,300],[859.3,645.4]);
const yHi=d3.scaleLinear([775,830],[641,620]);
const yR=d3.scaleLinear([10.2,109.7],[859.3,620]);
dots([[1,gFirst.ce1]].concat(gEarly.ce,d3.zip(rng(20,3801,20),gCE),d3.zip(rng(30,3800,20),gCE2),gCEtail),x,yR,"#4d6cb5",4,1.1);
dots([[1,gFirst.cha]].concat(d3.zip(rng(20,4001,20),gCha)),x,yLo,"#2a2a2a",4,1.1);
dots(gEarly.dis.concat(d3.zip(rng(10,4000,20),gDis)),x,yLo,"#f2b795",4,1.3);
dots([[1,gFirst.dis]],x,yHi,"#f2b795",4,1.2);
frame(p);
axis("bottom",x,p.y1,[0,500,1000,1500,2000,2500,3000,3500,4000],[250,750,1250,1750,2250,2750,3250,3750]);
axis("left",yLo,p.x0,[0,100,200],[50,150,250]);
axis("left",yHi,p.x0,[800],[]);
axis("right",yR,p.x1,[20,40,60,80,100],[30,50,70,90]);
breakMark(p.x0,643);
title(18.5,739,[{t:"Specific Capacity (mAh/g)"}],true);
title(1059,755,[{t:"Coulombic Efficiency (%)"}],true);
title(545,898,[{t:"Cycle Numbers"}],false);
letter("g",3,628);
svg.append("path").attr("d","M133,751 Q118,769 80,771").attr("fill","none").attr("stroke",INK).attr("stroke-width",1.8).attr("marker-end","url(#arr)");
svg.append("path").attr("d","M960,661 Q982,682 1013,679").attr("fill","none").attr("stroke",INK).attr("stroke-width",1.8).attr("marker-end","url(#arr)");
dots([[0,0]],()=>818,()=>691,"#2a2a2a",4,1.2);
dots([[0,0]],()=>818,()=>713,"#f2c0a3",4,1.2);
label(838,696.5,[{t:"Charge"}],15.5);
label(838,718.5,[{t:"Discharge"}],15.5);
label(974,851,[{t:"@5 A/g"}],14.5,"end","#3d4d94");
}
</script></body></html>
